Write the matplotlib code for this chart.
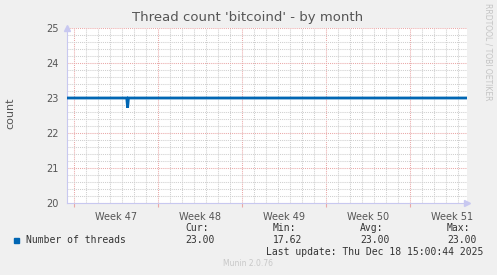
"""Munin-style monthly thread count chart for bitcoind."""

import matplotlib
matplotlib.use("Agg")
import matplotlib.pyplot as plt
from matplotlib.ticker import MultipleLocator

# time in days from left edge of the graph, thread counts
days = [0.0, 4.98, 5.05, 5.12, 33.25]
threads = [23.0, 23.0, 22.72, 23.0, 23.0]

week_starts = [0.61, 7.61, 14.61, 21.61, 28.61]
week_labels = ["Week 47", "Week 48", "Week 49", "Week 50", "Week 51"]

legend_name = "Number of threads"
stats = {"Cur:": "23.00", "Min:": "17.62", "Avg:": "23.00", "Max:": "23.00"}
last_update = "Last update: Thu Dec 18 15:00:44 2025"

W, H = 497, 275
BG = "#f0f0f0"
LINE = "#0066b3"


def px(x, y):
    return x / W, 1 - y / H


fig = plt.figure(figsize=(W / 100, H / 100), dpi=100, facecolor=BG)
ax = fig.add_axes([67 / W, 1 - 203 / H, 400 / W, 175 / H])
ax.set_facecolor("white")

ax.set_xlim(0, 400 / 12)
ax.set_ylim(20, 25)

# grid
ax.xaxis.set_minor_locator(MultipleLocator(1, offset=0.61))
ax.yaxis.set_minor_locator(MultipleLocator(0.2))
ax.set_yticks([20, 21, 22, 23, 24, 25])
ax.set_xticks(week_starts)
ax.set_xticklabels([])
ax.grid(which="minor", color="#cfcfcf", linestyle=(0, (1, 1)), linewidth=0.75)
ax.grid(which="major", color="#eaa8a8", linestyle=(0, (1, 1)), linewidth=0.75)
ax.set_axisbelow(True)

for i, lab in enumerate(week_labels):
    ax.text(week_starts[i] + 3.5, 19.75, lab, ha="center", va="top",
            fontsize=7, color="#555555")

ax.plot(days, threads, color=LINE, linewidth=2.0, solid_joinstyle="miter", zorder=3)

ax.tick_params(axis="both", which="both", length=0)
ax.tick_params(axis="y", labelsize=7, labelcolor="#555555", pad=6)
ax.tick_params(axis="x", which="major", length=3, color="#eaa8a8", direction="out")

for s in ["top", "right"]:
    ax.spines[s].set_visible(False)
for s in ["left", "bottom"]:
    ax.spines[s].set_color("#c8c8f0")
    ax.spines[s].set_linewidth(0.8)

# axis arrows
ax.plot([0], [25.0], marker="^", color="#c8c8f0", markersize=5, clip_on=False, zorder=4)
ax.plot([400 / 12], [20], marker=">", color="#c8c8f0", markersize=5, clip_on=False, zorder=4)

fig.text(*px(10, 113), "count", rotation=90, ha="center", va="center",
         fontsize=8, color="#555555")

fig.text(*px(248, 18), "Thread count 'bitcoind' - by month", ha="center", va="center",
         fontsize=9.5, color="#555555")
fig.text(*px(488, 52), "RRDTOOL / TOBI OETIKER", rotation=270, ha="center", va="center",
         fontsize=5.5, color="#c4c4c4")

mono = "DejaVu Sans Mono"
fig.patches.append(plt.Rectangle(px(14, 243), 5 / W, 5 / H, color=LINE,
                                 transform=fig.transFigure, figure=fig))
fig.text(*px(26, 240), legend_name, family=mono, fontsize=7, color="#333333", va="center")
stat_x = [185, 273, 360, 447]
for xx, (k, v) in zip(stat_x, stats.items()):
    fig.text(*px(xx, 228), k, family=mono, fontsize=7, color="#333333", va="center")
    fig.text(*px(xx, 240), v, family=mono, fontsize=7, color="#333333", va="center")
fig.text(*px(483, 252), last_update, family=mono, fontsize=7, color="#333333",
         va="center", ha="right")
fig.text(*px(248, 264), "Munin 2.0.76", fontsize=5.5, color="#c8c8c8", ha="center", va="center")

fig.savefig("out.png", dpi=100, facecolor=BG)
